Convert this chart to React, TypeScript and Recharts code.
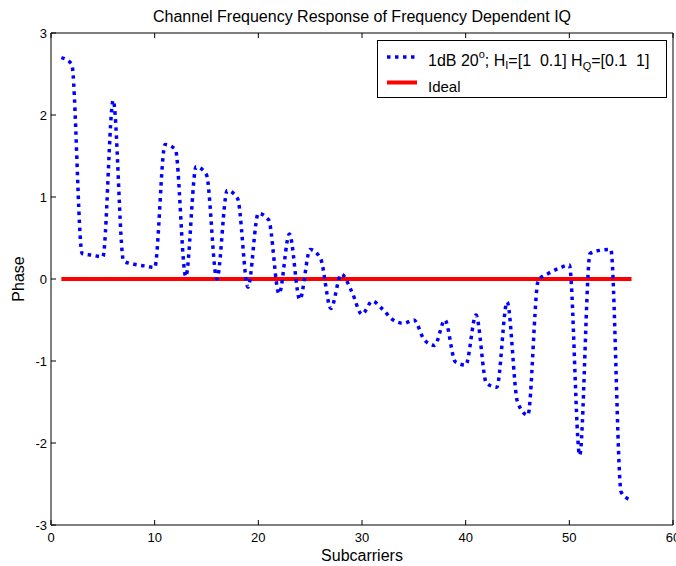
import React from "react";
import {
  LineChart,
  Line,
  XAxis,
  YAxis,
  Legend,
} from "recharts";

// subcarrier index 1..56
const subcarriers = [
  1, 2, 3, 4, 5, 6, 7, 8, 9, 10, 11, 12, 13, 14, 15, 16, 17, 18, 19, 20, 21,
  22, 23, 24, 25, 26, 27, 28, 29, 30, 31, 32, 33, 34, 35, 36, 37, 38, 39, 40,
  41, 42, 43, 44, 45, 46, 47, 48, 49, 50, 51, 52, 53, 54, 55, 56,
];

// phase of the channel with frequency dependent IQ imbalance
const phase = [
  2.7, 2.62, 0.31, 0.29, 0.27, 2.18, 0.22, 0.18, 0.16, 0.14, 1.64, 1.58, 0.03,
  1.37, 1.27, 0.0, 1.08, 0.98, -0.1, 0.8, 0.72, -0.18, 0.55, -0.25, 0.36, 0.25,
  -0.36, 0.06, -0.15, -0.43, -0.27, -0.37, -0.5, -0.54, -0.5, -0.74, -0.81,
  -0.5, -1.01, -1.05, -0.44, -1.27, -1.32, -0.28, -1.5, -1.66, -0.02, 0.07,
  0.13, 0.17, -2.15, 0.31, 0.35, 0.36, -2.6, -2.7,
];

const idealLevel = 0;

const xTicks = [0, 10, 20, 30, 40, 50, 60];
const yTicks = [-3, -2, -1, 0, 1, 2, 3];

const data = subcarriers.map((k, i) => ({
  k,
  phase: phase[i],
  ideal: idealLevel,
}));

const FONT = "'Liberation Sans', Arial, Helvetica, sans-serif";
const TICK_LEN = 5;

// Matlab-style ticks: short marks pointing into the plot box
const BottomTick = (props: any) => {
  const { x, y, payload } = props;
  return (
    <g>
      <line x1={x} y1={y} x2={x} y2={y - TICK_LEN} stroke="#000" />
      <text x={x} y={y + 16.5} textAnchor="middle" fontSize={13} fontFamily={FONT} fill="#000">
        {payload.value}
      </text>
    </g>
  );
};

const LeftTick = (props: any) => {
  const { x, y, payload } = props;
  return (
    <g>
      <line x1={x} y1={y} x2={x + TICK_LEN} y2={y} stroke="#000" />
      <text x={x - 4} y={y + 4.5} textAnchor="end" fontSize={13} fontFamily={FONT} fill="#000">
        {payload.value}
      </text>
    </g>
  );
};

const TopTick = (props: any) => {
  const { x, y } = props;
  return <line x1={x} y1={y} x2={x} y2={y + TICK_LEN} stroke="#000" />;
};

const RightTick = (props: any) => {
  const { x, y } = props;
  return <line x1={x} y1={y} x2={x - TICK_LEN} y2={y} stroke="#000" />;
};

const small = { fontSize: 11, position: "relative" as const };

const LegendBox = () => (
  <div
    style={{
      position: "relative",
      width: 290,
      height: 58,
      border: "1px solid #000",
      background: "#fff",
      fontFamily: FONT,
      fontSize: 15,
      lineHeight: "15px",
      color: "#000",
      boxSizing: "border-box",
    }}
  >
    <svg width={50} height={50} style={{ position: "absolute", left: 0, top: 0 }}>
      <line x1={9} y1={16} x2={39} y2={16} stroke="#0000ff" strokeWidth={3.5} strokeDasharray="3.5 4.5" />
      <line x1={9} y1={41.5} x2={39} y2={41.5} stroke="#ff0000" strokeWidth={4} />
    </svg>
    <div style={{ position: "absolute", left: 50, top: 12, whiteSpace: "pre", fontSize: 16 }}>
      1dB 20<span style={{ ...small, top: -8 }}>o</span>; H<span style={{ ...small, top: 3 }}>I</span>=[1  0.1] H
      <span style={{ ...small, top: 4 }}>Q</span>=[0.1  1]
    </div>
    <div style={{ position: "absolute", left: 50, top: 38 }}>Ideal</div>
  </div>
);

export default function App() {
  return (
    <div style={{ position: "absolute", left: 0, top: 0, width: 676, height: 566, background: "#fff" }}>
      <div
        style={{
          position: "absolute",
          left: 0,
          top: 9,
          width: 724,
          textAlign: "center",
          fontFamily: FONT,
          fontSize: 16,
          lineHeight: "16px",
          color: "#000",
          zIndex: 1,
        }}
      >
        Channel Frequency Response of Frequency Dependent IQ
      </div>
      <LineChart
        width={676}
        height={566}
        data={data}
        margin={{ top: 28, right: 0, bottom: 0, left: 0 }}
      >
        <XAxis
          dataKey="k"
          type="number"
          domain={[0, 60]}
          ticks={xTicks}
          height={41}
          tickSize={0}
          tickMargin={0}
          tickLine={false}
          axisLine={{ stroke: "#000" }}
          tick={<BottomTick />}
          interval={0}
          label={{
            value: "Subcarriers",
            position: "insideBottom",
            offset: 5,
            style: { fontFamily: FONT, fontSize: 16, fill: "#000" },
          }}
        />
        <XAxis
          xAxisId="top"
          orientation="top"
          dataKey="k"
          type="number"
          domain={[0, 60]}
          ticks={xTicks}
          height={5}
          tickSize={0}
          tickMargin={0}
          tickLine={false}
          axisLine={{ stroke: "#000" }}
          tick={<TopTick />}
          interval={0}
        />
        <YAxis
          type="number"
          domain={[-3, 3]}
          ticks={yTicks}
          width={51}
          tickSize={0}
          tickMargin={0}
          tickLine={false}
          axisLine={{ stroke: "#000" }}
          tick={<LeftTick />}
          interval={0}
          label={{
            value: "Phase",
            angle: -90,
            position: "insideLeft",
            offset: 18,
            style: { textAnchor: "middle", fontFamily: FONT, fontSize: 16, fill: "#000" },
          }}
        />
        <YAxis
          yAxisId="right"
          orientation="right"
          type="number"
          domain={[-3, 3]}
          ticks={yTicks}
          width={3}
          tickSize={0}
          tickMargin={0}
          tickLine={false}
          axisLine={{ stroke: "#000" }}
          tick={<RightTick />}
          interval={0}
        />
        <Legend
          content={<LegendBox />}
          layout="horizontal"
          verticalAlign="middle"
          align="center"
          wrapperStyle={{ top: 40, left: 377, width: 290, height: 58 }}
        />
        <Line
          dataKey="ideal"
          stroke="#ff0000"
          strokeWidth={4}
          dot={false}
          isAnimationActive={false}
        />
        <Line
          dataKey="phase"
          type="monotone"
          stroke="#0000ff"
          strokeWidth={3.5}
          strokeDasharray="3.5 4.5"
          dot={false}
          isAnimationActive={false}
        />
      </LineChart>
    </div>
  );
}
